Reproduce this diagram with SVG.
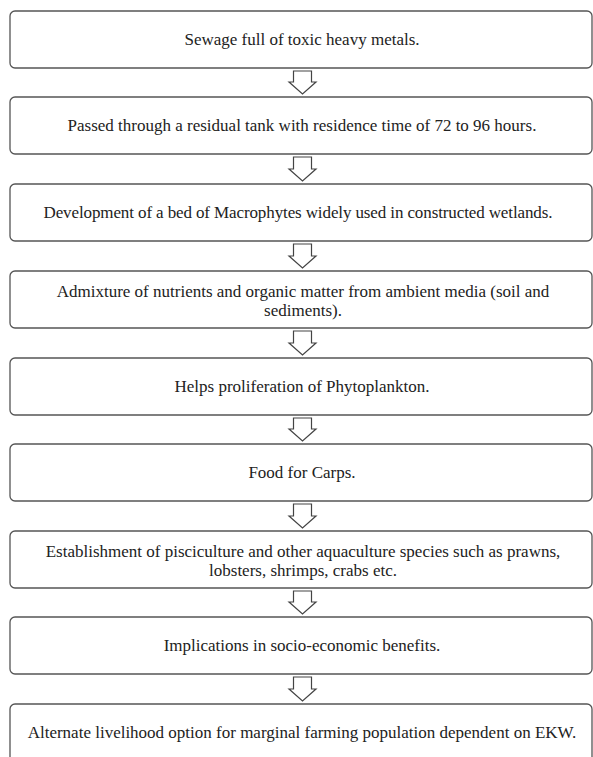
<svg xmlns="http://www.w3.org/2000/svg" width="593" height="757" viewBox="0 0 593 757">
<style>
.box{fill:#fff;stroke:#555;stroke-width:1.3}
.t{font-family:"Liberation Serif","Times New Roman",serif;font-size:17px;fill:#222;text-anchor:middle}
.arr{fill:#fff;stroke:#444;stroke-width:1.2;stroke-linejoin:miter}
</style>
<rect width="593" height="757" fill="#fff"/>
<g id="n1"><rect class="box" x="10" y="11" width="582" height="57" rx="5"/><text class="t" x="302" y="45">Sewage full of toxic heavy metals.</text></g>
<g id="n2"><rect class="box" x="10" y="97" width="582" height="57" rx="5"/><text class="t" x="302" y="131">Passed through a residual tank with residence time of 72 to 96 hours.</text></g>
<g id="n3"><rect class="box" x="10" y="184" width="582" height="57" rx="5"/><text class="t" x="298" y="218" textLength="509" lengthAdjust="spacing">Development of a bed of Macrophytes widely used in constructed wetlands.</text></g>
<g id="n4"><rect class="box" x="10" y="271" width="582" height="57" rx="5"/><text class="t" x="303" y="297">Admixture of nutrients and organic matter from ambient media (soil and</text><text class="t" x="303" y="316">sediments).</text></g>
<g id="n5"><rect class="box" x="10" y="358" width="582" height="57" rx="5"/><text class="t" x="302" y="392">Helps proliferation of Phytoplankton.</text></g>
<g id="n6"><rect class="box" x="10" y="444" width="582" height="57" rx="5"/><text class="t" x="302" y="478">Food for Carps.</text></g>
<g id="n7"><rect class="box" x="10" y="531" width="582" height="57" rx="5"/><text class="t" x="303" y="557">Establishment of pisciculture and other aquaculture species such as prawns,</text><text class="t" x="303" y="576">lobsters, shrimps, crabs etc.</text></g>
<g id="n8"><rect class="box" x="10" y="617" width="582" height="57" rx="5"/><text class="t" x="302" y="651">Implications in socio-economic benefits.</text></g>
<g id="n9"><rect class="box" x="10" y="704" width="582" height="70" rx="5"/><text class="t" x="302" y="738">Alternate livelihood option for marginal farming population dependent on EKW.</text></g>
<g id="connectors">
<path class="arr" d="M293.5,71 H311.5 V82 H316 L302.5,94 L289,82 H293.5 Z"/>
<path class="arr" d="M293.5,157 H311.5 V169 H316 L302.5,181 L289,169 H293.5 Z"/>
<path class="arr" d="M293.5,244 H311.5 V256 H316 L302.5,268 L289,256 H293.5 Z"/>
<path class="arr" d="M293.5,331 H311.5 V343 H316 L302.5,355 L289,343 H293.5 Z"/>
<path class="arr" d="M293.5,418 H311.5 V429 H316 L302.5,441 L289,429 H293.5 Z"/>
<path class="arr" d="M293.5,504 H311.5 V516 H316 L302.5,528 L289,516 H293.5 Z"/>
<path class="arr" d="M293.5,591 H311.5 V602 H316 L302.5,614 L289,602 H293.5 Z"/>
<path class="arr" d="M293.5,677 H311.5 V689 H316 L302.5,701 L289,689 H293.5 Z"/>
</g>
</svg>
